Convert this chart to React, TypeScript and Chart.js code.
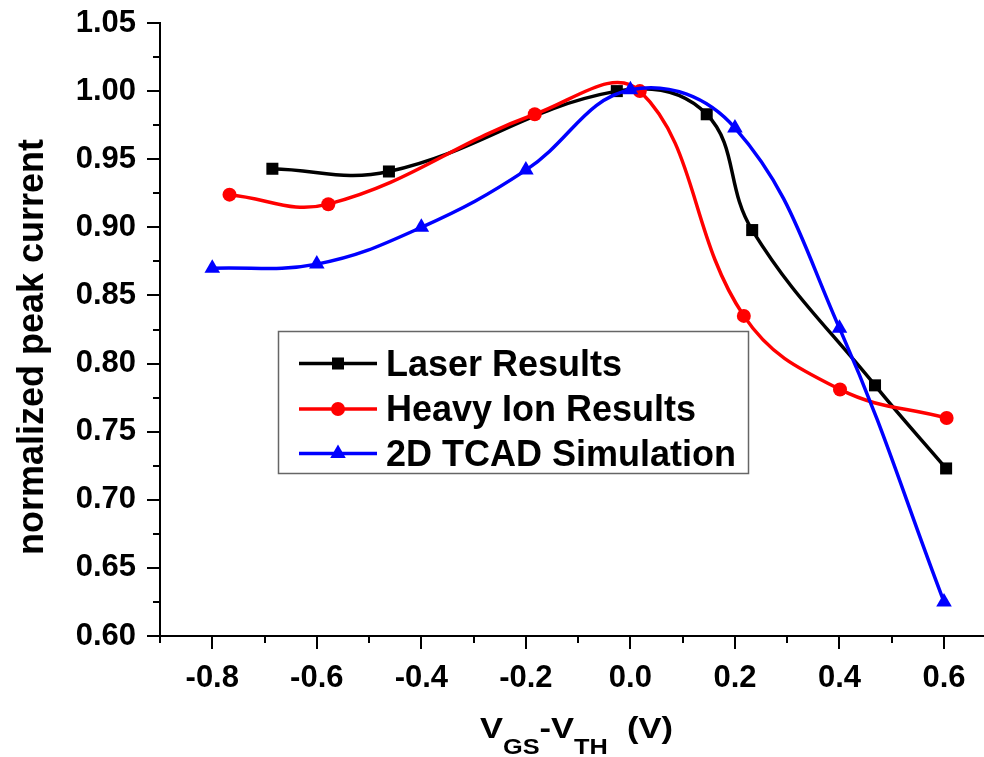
import React, { useEffect, useRef } from 'react';
import { Chart, registerables } from 'chart.js';
Chart.register(...registerables);

const seriesNames = ['Laser Results', 'Heavy Ion Results', '2D TCAD Simulation'];
const laserX = [-0.685, -0.462, -0.026, 0.146, 0.233, 0.468, 0.604];
const laserY = [0.943, 0.941, 1.0, 0.983, 0.898, 0.784, 0.723];
const ionX = [-0.767, -0.578, -0.183, 0.018, 0.217, 0.401, 0.605];
const ionY = [0.924, 0.917, 0.983, 1.0, 0.835, 0.781, 0.760];
const tcadX = [-0.8, -0.6, -0.4, -0.2, 0.0, 0.2, 0.4, 0.6];
const tcadY = [0.870, 0.873, 0.900, 0.942, 1.001, 0.973, 0.826, 0.625];

const xTickValues = [-0.8, -0.6, -0.4, -0.2, 0.0, 0.2, 0.4, 0.6];
const xMinorValues = [-0.9, -0.7, -0.5, -0.3, -0.1, 0.1, 0.3, 0.5];
const yTickValues = [0.6, 0.65, 0.7, 0.75, 0.8, 0.85, 0.9, 0.95, 1.0, 1.05];
const yMinorValues = [0.625, 0.675, 0.725, 0.775, 0.825, 0.875, 0.925, 0.975, 1.025];

const FONT = '"Liberation Sans", Arial, Helvetica, sans-serif';
const colors = ['#000000', '#ff0000', '#0000ff'];
const styles = ['rect', 'circle', 'triangle'];
const radii = [8.5, 7, 9];

function drawMarker(ctx: CanvasRenderingContext2D, style: string, x: number, y: number, r: number, color: string) {
  ctx.fillStyle = color;
  ctx.beginPath();
  if (style === 'rect') {
    const s = Math.SQRT1_2 * r;
    ctx.rect(x - s, y - s, 2 * s, 2 * s);
  } else if (style === 'circle') {
    ctx.arc(x, y, r, 0, Math.PI * 2);
  } else {
    const a = (2 * Math.PI) / 3;
    ctx.moveTo(x, y - r);
    ctx.lineTo(x + Math.sin(a) * r, y - Math.cos(a) * r);
    ctx.lineTo(x + Math.sin(2 * a) * r, y - Math.cos(2 * a) * r);
    ctx.closePath();
  }
  ctx.fill();
}

const decorPlugin = {
  id: 'decor',
  afterDraw(chart: any) {
    const ctx: CanvasRenderingContext2D = chart.ctx;
    const xs = chart.scales.x;
    const ys = chart.scales.y;
    const bottom = chart.chartArea.bottom;
    const left = chart.chartArea.left;
    ctx.save();
    ctx.strokeStyle = '#000';
    ctx.lineWidth = 2;
    ctx.beginPath();
    for (const v of xTickValues) {
      const p = Math.round(xs.getPixelForValue(v));
      ctx.moveTo(p, bottom); ctx.lineTo(p, bottom + 13);
    }
    for (const v of xMinorValues) {
      const p = Math.round(xs.getPixelForValue(v));
      ctx.moveTo(p, bottom); ctx.lineTo(p, bottom + 7);
    }
    for (const v of yTickValues) {
      const p = Math.round(ys.getPixelForValue(v));
      ctx.moveTo(left, p); ctx.lineTo(left - 13, p);
    }
    for (const v of yMinorValues) {
      const p = Math.round(ys.getPixelForValue(v));
      ctx.moveTo(left, p); ctx.lineTo(left - 7, p);
    }
    ctx.stroke();

    // y title
    ctx.fillStyle = '#000';
    ctx.save();
    ctx.translate(33, 347);
    ctx.rotate(-Math.PI / 2);
    ctx.font = `bold 36px ${FONT}`;
    ctx.textAlign = 'center';
    ctx.textBaseline = 'middle';
    ctx.fillText('normalized peak current', 0, 0);
    ctx.restore();

    // x title with subscripts
    ctx.save();
    ctx.translate(480, 0);
    ctx.scale(1.15, 1);
    ctx.textAlign = 'left';
    ctx.textBaseline = 'alphabetic';
    const mainF = `bold 30px ${FONT}`;
    const subF = `bold 22px ${FONT}`;
    const parts: [string, string, number][] = [
      ['V', mainF, 738], ['GS', subF, 754], ['-V', mainF, 738], ['TH', subF, 754], ['  (V)', mainF, 738],
    ];
    let cx = 0;
    for (const [t, f, by] of parts) {
      ctx.font = f;
      ctx.fillText(t, cx, by);
      cx += ctx.measureText(t).width;
    }
    ctx.restore();

    // legend
    ctx.strokeStyle = '#666';
    ctx.lineWidth = 1.5;
    ctx.strokeRect(278.5, 331.5, 470, 142);
    const rowsY = [363.5, 409, 453.5];
    chart.data.datasets.forEach((ds: any, i: number) => {
      const yy = rowsY[i];
      ctx.strokeStyle = ds.borderColor;
      ctx.lineWidth = 3.5;
      ctx.beginPath();
      ctx.moveTo(299, yy); ctx.lineTo(377, yy);
      ctx.stroke();
      drawMarker(ctx, styles[i], 338, yy, radii[i], ds.borderColor);
      ctx.fillStyle = '#000';
      ctx.font = `bold 36px ${FONT}`;
      ctx.textAlign = 'left';
      ctx.textBaseline = 'alphabetic';
      ctx.fillText(ds.label, 386, yy + 12);
    });
    ctx.restore();
  },
};

export default function App() {
  const ref = useRef<HTMLCanvasElement | null>(null);
  useEffect(() => {
    if (!ref.current) return;
    const xsArr = [laserX, ionX, tcadX];
    const ysArr = [laserY, ionY, tcadY];
    const datasets = seriesNames.map((name, i) => ({
      label: name,
      data: xsArr[i].map((x, j) => ({ x, y: ysArr[i][j] })),
      borderColor: colors[i],
      backgroundColor: colors[i],
      pointBackgroundColor: colors[i],
      pointBorderWidth: 0,
      pointStyle: styles[i],
      pointRadius: radii[i],
      borderWidth: 3.5,
      tension: 0.4,
      fill: false,
      clip: false,
      order: 2 - i,
    }));
    const chart = new Chart(ref.current, {
      type: 'line',
      data: { datasets },
      plugins: [decorPlugin],
      options: {
        animation: false,
        responsive: false,
        maintainAspectRatio: false,
        layout: { autoPadding: false, padding: { top: 23, right: 0, left: 0, bottom: 0 } },
        plugins: { legend: { display: false }, tooltip: { enabled: false }, title: { display: false } },
        scales: {
          x: {
            type: 'linear',
            min: -0.9,
            max: 0.6765,
            grid: { display: false, drawTicks: false },
            border: { display: true, color: '#000', width: 2 },
            ticks: {
              color: '#000',
              font: { family: FONT, size: 31, weight: 'bold' },
              padding: 24,
              maxRotation: 0,
              autoSkip: false,
              callback: (v: any) => Number(v).toFixed(1),
            },
            afterBuildTicks: (s: any) => { s.ticks = xTickValues.map((v) => ({ value: v })); },
            afterFit: (s: any) => { s.height = 121; s.paddingLeft = 0; s.paddingRight = 0; },
          },
          y: {
            type: 'linear',
            min: 0.6,
            max: 1.05,
            grid: { display: false, drawTicks: false },
            border: { display: true, color: '#000', width: 2 },
            ticks: {
              color: '#000',
              font: { family: FONT, size: 31, weight: 'bold' },
              padding: 24,
              autoSkip: false,
              callback: (v: any) => Number(v).toFixed(2),
            },
            afterBuildTicks: (s: any) => { s.ticks = yTickValues.map((v) => ({ value: v })); },
            afterFit: (s: any) => { s.width = 160; s.paddingTop = 0; s.paddingBottom = 0; },
          },
        },
      },
    } as any);
    return () => chart.destroy();
  }, []);
  return (
    <div style={{ position: 'fixed', left: 0, top: 0, width: 984, height: 757, background: '#fff' }}>
      <canvas ref={ref} width={984} height={757} style={{ display: 'block', width: 984, height: 757 }} />
    </div>
  );
}
